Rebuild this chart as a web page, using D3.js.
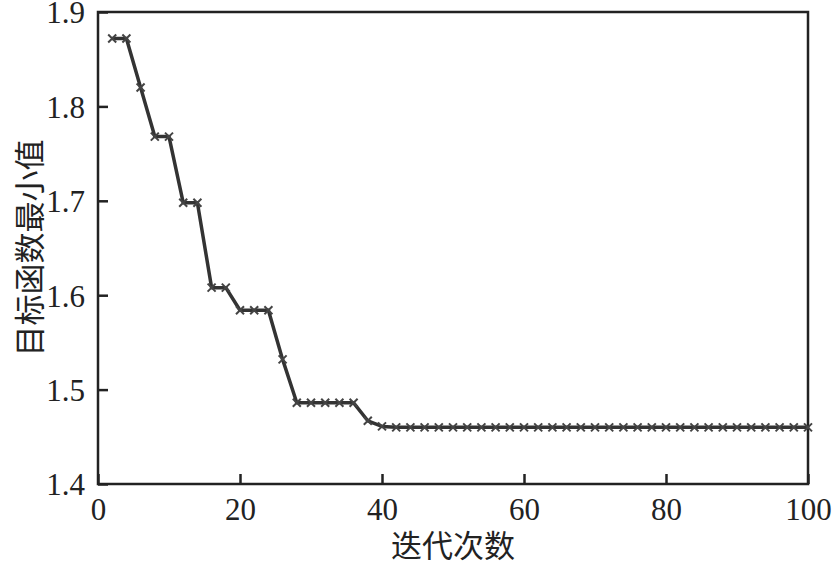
<!DOCTYPE html>
<html><head><meta charset="utf-8">
<script src="https://cdn.jsdelivr.net/npm/d3@7"></script>
<style>body{margin:0;background:#fff}svg{display:block}
text{font-family:"Liberation Serif","DejaVu Serif","Noto Sans CJK SC",serif}</style>
</head><body>
<svg id="c" width="834" height="563"></svg>
<script>
const iterations = d3.range(2, 101, 2);
const objectiveValues = [
  1.872, 1.872, 1.820, 1.768, 1.768, 1.698, 1.698, 1.608, 1.608, 1.584,
  1.584, 1.584, 1.532, 1.486, 1.486, 1.486, 1.486, 1.486, 1.467, 1.461,
  1.460, 1.460, 1.460, 1.460, 1.460, 1.460, 1.460, 1.460, 1.460, 1.460,
  1.460, 1.460, 1.460, 1.460, 1.460, 1.460, 1.460, 1.460, 1.460, 1.460,
  1.460, 1.460, 1.460, 1.460, 1.460, 1.460, 1.460, 1.460, 1.460, 1.460
];
const xTicks = [0, 20, 40, 60, 80, 100];
const yTicks = [1.4, 1.5, 1.6, 1.7, 1.8, 1.9];
const xTitle = "迭代次数";
const yTitle = "目标函数最小值";

const data = iterations.map((x, i) => ({x, y: objectiveValues[i]}));
const svg = d3.select("#c");
const L = 98, R = 808, T = 12, B = 484;
const x = d3.scaleLinear().domain([0, 100]).range([L, R]);
const y = d3.scaleLinear().domain([1.4, 1.9]).range([B, T]);
const ink = "#222";

svg.append("rect").attr("x", L).attr("y", T).attr("width", R - L).attr("height", B - T)
  .attr("fill", "none").attr("stroke", ink).attr("stroke-width", 2.5);

const xAxis = svg.append("g").attr("transform", `translate(0,${B})`)
  .call(d3.axisBottom(x).tickValues(xTicks).tickFormat(d3.format("d")).tickSizeInner(-10).tickSizeOuter(0).tickPadding(14));
const yAxis = svg.append("g").attr("transform", `translate(${L},0)`)
  .call(d3.axisLeft(y).tickValues(yTicks).tickFormat(d3.format(".1f")).tickSizeInner(-10).tickSizeOuter(0).tickPadding(13));
[xAxis, yAxis].forEach(g => {
  g.attr("font-family", null).attr("font-size", null);
  g.select(".domain").remove();
  g.selectAll(".tick line").attr("stroke", ink).attr("stroke-width", 2.5);
  g.selectAll(".tick text").attr("fill", ink).style("font-size", "31px");
});
xAxis.selectAll(".tick text").attr("dy", "0.71em");
yAxis.selectAll(".tick text").attr("dy", "0.35em");

const line = d3.line().x(d => x(d.x)).y(d => y(d.y));
svg.append("path").datum(data).attr("d", line)
  .attr("fill", "none").attr("stroke", "#333").attr("stroke-width", 3.5).attr("stroke-linejoin", "round");

const s = 4;
svg.append("g").selectAll("path").data(data).join("path")
  .attr("d", d => {
    const cx = x(d.x), cy = y(d.y);
    return `M${cx - s},${cy - s}L${cx + s},${cy + s}M${cx - s},${cy + s}L${cx + s},${cy - s}`;
  })
  .attr("stroke", "#444").attr("stroke-width", 2).attr("fill", "none");

svg.append("text").attr("x", (L + R) / 2).attr("y", 557).attr("text-anchor", "middle")
  .style("font-size", "31px").attr("fill", ink).text(xTitle);
svg.append("text").attr("transform", `translate(30,${248}) rotate(-90)`).attr("text-anchor", "middle")
  .attr("dy", "0.35em").style("font-size", "31px").attr("fill", ink).text(yTitle);
</script>
</body></html>
